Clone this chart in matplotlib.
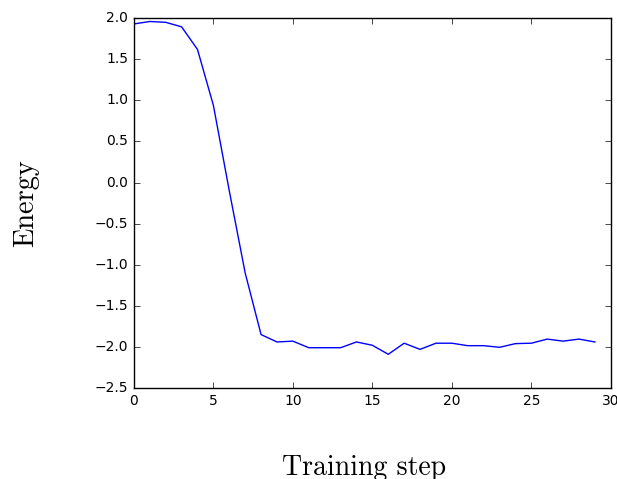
import matplotlib
matplotlib.use("Agg")
import matplotlib.pyplot as plt

plt.style.use("classic")

steps = list(range(30))
energy = [1.93, 1.96, 1.95, 1.895, 1.62, 0.94, -0.1, -1.1, -1.85, -1.94,
          -1.93, -2.01, -2.01, -2.01, -1.94, -1.98, -2.09, -1.955, -2.03, -1.955,
          -1.955, -1.985, -1.985, -2.005, -1.96, -1.955, -1.905, -1.93, -1.905, -1.94]

fig = plt.figure(figsize=(6.17, 4.79), dpi=100)
fig.patch.set_facecolor("white")
ax = fig.add_axes([0.217, 0.190, 0.773, 0.772])
ax.plot(steps, energy, color="b", linewidth=1)
ax.set_xlim(0, 30)
ax.set_ylim(-2.5, 2.0)
ax.tick_params(labelsize=10)

ax.set_xlabel("Training step", family="cmr10", fontsize=20, labelpad=34)
ax.xaxis.label.set_x(0.483)
ax.set_ylabel("Energy", family="cmr10", fontsize=20.5, labelpad=40)

fig.savefig("out.png", dpi=100, facecolor="white")
